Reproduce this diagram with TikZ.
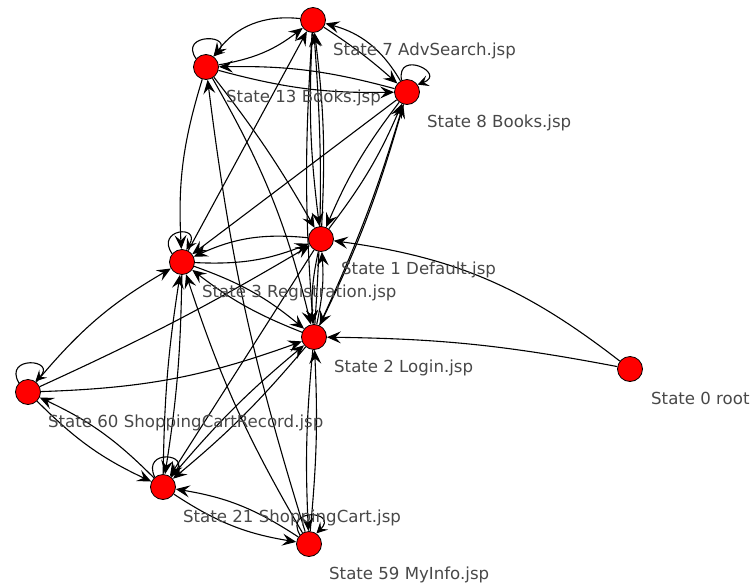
\documentclass[tikz,border=0pt]{standalone}
\usepackage{fontspec}
\setmainfont{DejaVu Sans}
\usetikzlibrary{arrows.meta}
\pgfdeclarelayer{background}
\pgfsetlayers{background,main}
\definecolor{labelgray}{RGB}{72,72,72}
\tikzset{
  st/.style={circle, minimum size=25pt, inner sep=0pt, fill=red, draw=black, line width=0.8pt},
  lbl/.style={anchor=base west, inner sep=0pt, text=labelgray, font=\fontsize{16.6}{18}\selectfont},
  link/.style={draw=black, line width=1.1pt, -{Stealth[length=14pt,width=12pt,inset=5.5pt]}},
  looptip/.style={draw=black, line width=1.1pt, -{Stealth[length=11pt,width=11pt,inset=4.5pt]}}
}
\begin{document}
\begin{tikzpicture}[x=1pt, y=-1pt]
\useasboundingbox (0,0) rectangle (753,587);

% states
\node[st] (s7)  at (313,20)  {};
\node[st] (s13) at (206,67)  {};
\node[st] (s8)  at (407,92)  {};
\node[st] (s1)  at (321,239) {};
\node[st] (s3)  at (182,262) {};
\node[st] (s2)  at (314,337) {};
\node[st] (s0)  at (630,369) {};
\node[st] (s60) at (28,392)  {};
\node[st] (s21) at (163,487) {};
\node[st] (s59) at (309,544) {};

% state names
\node[lbl] (l7)  at (333,55)  {State 7 AdvSearch.jsp};
\node[lbl] (l13) at (226,102) {State 13 Books.jsp};
\node[lbl] (l8)  at (427,127) {State 8 Books.jsp};
\node[lbl] (l1)  at (341,274) {State 1 Default.jsp};
\node[lbl] (l3)  at (202,297) {State 3 Registration.jsp};
\node[lbl] (l2)  at (334,372) {State 2 Login.jsp};
\node[lbl] (l0)  at (651,404) {State 0 root};
\node[lbl] (l60) at (48,427)  {State 60 ShoppingCartRecord.jsp};
\node[lbl] (l21) at (183,522) {State 21 ShoppingCart.jsp};
\node[lbl] (l59) at (329,579) {State 59 MyInfo.jsp};

\begin{pgfonlayer}{background}
% self transitions: anchors use canvas angles, offsets use the flipped y axis
\draw[looptip] (s13.140) .. controls +(-125:32) and +(-45:32) .. (s13.55);
\draw[looptip] (s8.115)  .. controls +(-100:32) and +(-20:32) .. (s8.35);
\draw[looptip] (s60.135) .. controls +(-120:32) and +(-45:32) .. (s60.55);
\draw[looptip] (s21.130) .. controls +(-115:32) and +(-45:32) .. (s21.55);
\draw[looptip] (s59.135) .. controls +(-120:32) and +(-45:32) .. (s59.55);
\draw[looptip] (s3.140)  .. controls +(-125:30) and +(-60:30) .. (s3.70);

% upper group
\draw[link] (s7) to[bend right=30] (s13);
\draw[link] (s13) to[bend right=14] (s7);
\draw[link] (s3) to (s7);
\draw[link] (s8) to[bend right=8] (s13);
\draw[link] (s13) to[bend right=8] (s8);
\draw[link] (s8) to[bend right=22] (s7);
\draw[link] (s7) to[bend left=4] (s8);
\draw[link] (s7) to[bend right=5] (s1);
\draw[link] (s1) to[bend right=5] (s7);
\draw[link] (s7) to[bend right=4] (s2);
\draw[link] (s2) to[bend right=4] (s7);
\draw[link] (s13) to[bend right=10] (s3);
\draw[link] (s13) to[bend left=4] (s1);
\draw[link] (s13) to[bend left=8] (s2);
\draw[link] (s8) to[bend right=7] (s1);
\draw[link] (s1) to[bend right=7] (s8);
\draw[link] (s8) to[bend left=5] (s2);
\draw[link] (s2) to[bend right=4] (s8);
\draw[link] (s8) to (s3);

% middle group
\draw[link] (s1) to[bend right=15] (s3);
\draw[link] (s3) to[bend right=12] (s1);
\draw[link] (s3) to[bend left=10] (s2);
\draw[link] (s2) to[bend left=8] (s3);
\draw[link] (s1) to[bend right=8] (s2);
\draw[link] (s2) to[bend right=8] (s1);
\draw[link] (s0) to[bend right=15] (s1);
\draw[link] (s0) to[bend right=5] (s2);

% lower group
\draw[link] (s60) to[bend left=10] (s3);
\draw[link] (s60) to[bend right=3] (s1);
\draw[link] (s60) to[bend right=9] (s2);
\draw[link] (s60) to[bend right=10] (s21);
\draw[link] (s21) to[bend right=10] (s60);
\draw[link] (s3) to[bend left=4] (s21);
\draw[link] (s21) to[bend left=4] (s3);
\draw[link] (s1) to (s21);
\draw[link] (s21) to[bend left=5] (s2);
\draw[link] (s2) to[bend left=5] (s21);
\draw[link] (s21) to[bend right=12] (s59);
\draw[link] (s59) to[bend right=12] (s21);
\draw[link] (s59) to[bend right=4] (s2);
\draw[link] (s2) to[bend right=4] (s59);
\draw[link] (s59) to[bend left=6] (s3);
\draw[link] (s59) to[bend left=5] (s13);
\end{pgfonlayer}
\end{tikzpicture}
\end{document}
